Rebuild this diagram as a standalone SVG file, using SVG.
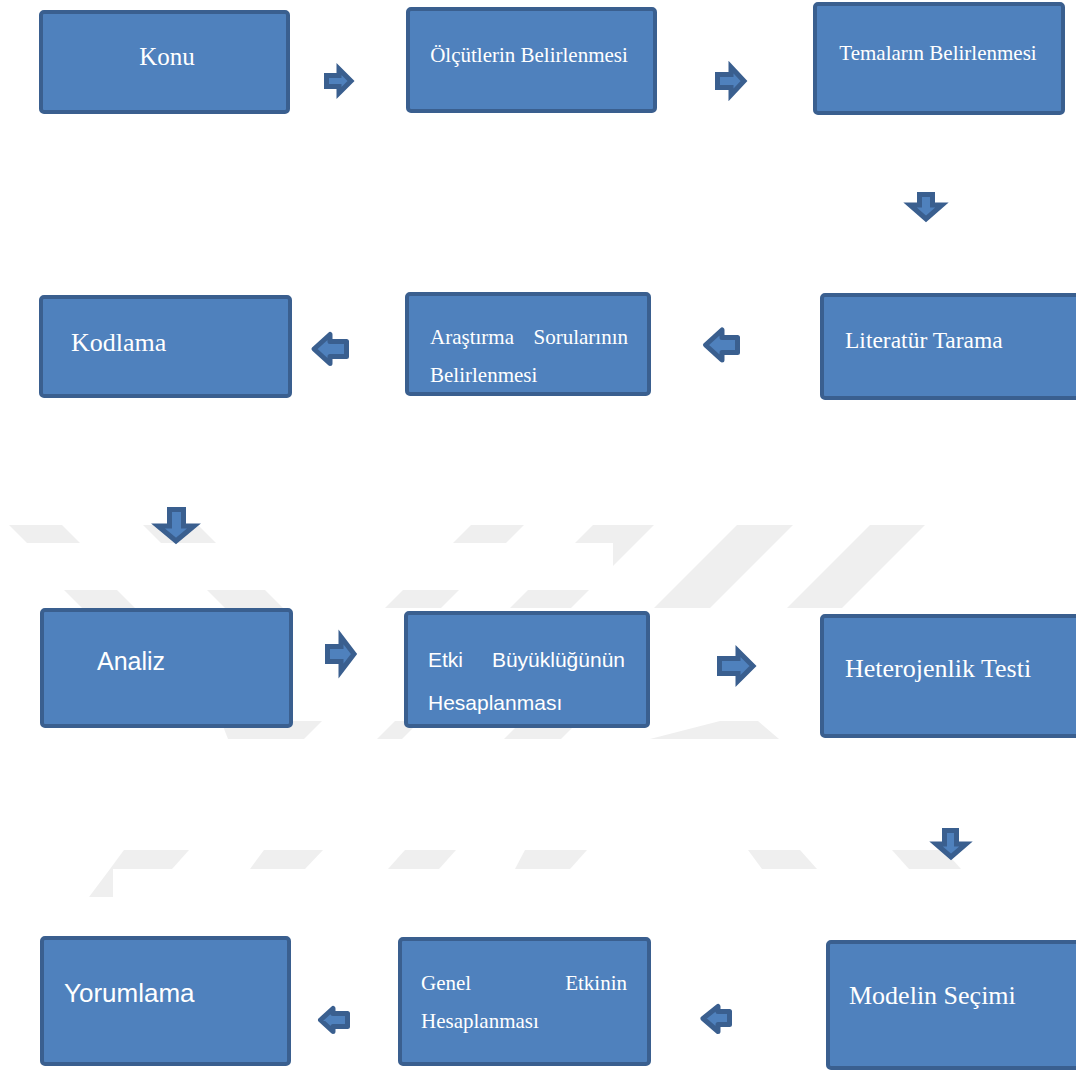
<svg xmlns="http://www.w3.org/2000/svg" width="1076" height="1070" viewBox="0 0 1076 1070">
<style>
.wm{fill:#efefef}
.box{fill:#4f81bd;stroke:#3a5f8f;stroke-width:4}
.arr{fill:#4f81bd;stroke:#3a5f8f;stroke-width:5}
.arrR{stroke-linejoin:miter}
.arrL{stroke-linejoin:round}
.serif{font-family:"Liberation Serif","Times New Roman",serif;fill:#ffffff}
.sans{font-family:"Liberation Sans",Arial,sans-serif;fill:#ffffff}
</style>
<rect width="1076" height="1070" fill="#ffffff"/>
<g id="watermark">
  <polygon class="wm" points="9,525 62,525 80,543 27,543"/>
  <polygon class="wm" points="143,525 198,525 216,543 161,543"/>
  <polygon class="wm" points="471,525 524,525 506,543 453,543"/>
  <polygon class="wm" points="593,525 654,525 571,608 510,608"/>
  <polygon class="wm" points="737,525 793,525 710,608 654,608"/>
  <polygon class="wm" points="870,525 925,525 842,608 787,608"/>
  <polygon class="wm" points="64,590 117,590 135,608 82,608"/>
  <polygon class="wm" points="207,590 265,590 283,608 225,608"/>
  <polygon class="wm" points="403,590 459,590 441,608 385,608"/>
  <rect x="36" y="543" width="577" height="47" fill="#ffffff"/>
  <polygon class="wm" points="221,721 322,721 304,739 228,739"/>
  <polygon class="wm" points="395,721 420,721 402,739 377,739"/>
  <polygon class="wm" points="522,721 579,721 561,739 504,739"/>
  <polygon class="wm" points="720,721 758,721 779,739 650,739"/>
  <polygon class="wm" points="124,850 189,850 172,869 110,869"/>
  <polygon class="wm" points="110,869 113,869 113,897 89,897"/>
  <polygon class="wm" points="264,850 323,850 305,869 250,869"/>
  <polygon class="wm" points="405,850 456,850 439,869 388,869"/>
  <polygon class="wm" points="525,850 587,850 570,869 515,869"/>
  <polygon class="wm" points="748,850 800,850 817,869 762,869"/>
  <polygon class="wm" points="892,850 944,850 961,869 909,869"/>
</g>
<g id="connectors">
  <polygon class="arr arrR" points="326.5,75.5 339,75.5 339,69 351,81 339,93 339,86.5 326.5,86.5"/>
  <polygon class="arr arrR" points="717.5,74.5 731,74.5 731,67 744,81 731,95 731,87.5 717.5,87.5"/>
  <polygon class="arr arrR" points="919.5,194.5 932.5,194.5 932.5,205 942,205 926,219 910,205 919.5,205"/>
  <polygon class="arr arrL" points="314,349 330,334.5 330,341.5 346.5,341.5 346.5,356.5 330,356.5 330,363.5"/>
  <polygon class="arr arrL" points="705.5,345 722,330 722,337.5 737.5,337.5 737.5,352.5 722,352.5 722,360"/>
  <polygon class="arr arrR" points="169.5,509.5 183.5,509.5 183.5,526 194,526 176,541 158,526 169.5,526"/>
  <polygon class="arr arrR" points="327.5,646.5 341,646.5 341,637 354,654 341,671 341,661.5 327.5,661.5"/>
  <polygon class="arr arrR" points="719.5,658.5 738,658.5 738,651 753,666 738,681 738,673.5 719.5,673.5"/>
  <polygon class="arr arrR" points="944.5,830.5 956.5,830.5 956.5,844 966,844 951,857 936,844 944.5,844"/>
  <polygon class="arr arrL" points="320.5,1020 333,1008.5 333,1013.5 347.5,1013.5 347.5,1026.5 333,1026.5 333,1031.5"/>
  <polygon class="arr arrL" points="703,1018.5 718,1006.5 718,1011.5 729.5,1011.5 729.5,1024.5 718,1024.5 718,1031.5"/>
</g>
<g id="n-konu">
  <rect class="box" x="41" y="12" width="247" height="100" rx="3"/>
  <text class="serif" x="167" y="65" font-size="25" text-anchor="middle">Konu</text>
</g>
<g id="n-olcutler">
  <rect class="box" x="408" y="9" width="247" height="102" rx="3"/>
  <text class="serif" x="529" y="62" font-size="21" text-anchor="middle">Ölçütlerin Belirlenmesi</text>
</g>
<g id="n-temalar">
  <rect class="box" x="815" y="4" width="248" height="109" rx="3"/>
  <text class="serif" x="938" y="60" font-size="21" text-anchor="middle">Temaların Belirlenmesi</text>
</g>
<g id="n-kodlama">
  <rect class="box" x="41" y="297" width="249" height="99" rx="3"/>
  <text class="serif" x="71" y="351" font-size="26">Kodlama</text>
</g>
<g id="n-arastirma">
  <rect class="box" x="407" y="294" width="242" height="100" rx="3"/>
  <text class="serif" x="430" y="344" font-size="21">Araştırma</text>
  <text class="serif" x="628" y="344" font-size="21" text-anchor="end">Sorularının</text>
  <text class="serif" x="430" y="382" font-size="21">Belirlenmesi</text>
</g>
<g id="n-literatur">
  <rect class="box" x="822" y="295" width="258" height="103" rx="3"/>
  <text class="serif" x="845" y="348" font-size="23.5">Literatür Tarama</text>
</g>
<g id="n-analiz">
  <rect class="box" x="42" y="610" width="249" height="116" rx="3"/>
  <text class="sans" x="97" y="670" font-size="25">Analiz</text>
</g>
<g id="n-etki">
  <rect class="box" x="406" y="613" width="242" height="113" rx="3"/>
  <text class="sans" x="428" y="667" font-size="21">Etki</text>
  <text class="sans" x="625" y="667" font-size="21" text-anchor="end">Büyüklüğünün</text>
  <text class="sans" x="428" y="710" font-size="21">Hesaplanması</text>
</g>
<g id="n-heterojenlik">
  <rect class="box" x="822" y="616" width="258" height="120" rx="3"/>
  <text class="serif" x="845" y="677" font-size="26">Heterojenlik Testi</text>
</g>
<g id="n-yorumlama">
  <rect class="box" x="42" y="938" width="247" height="126" rx="3"/>
  <text class="sans" x="64" y="1002" font-size="26">Yorumlama</text>
</g>
<g id="n-genel">
  <rect class="box" x="400" y="939" width="249" height="125" rx="3"/>
  <text class="serif" x="421" y="990" font-size="21">Genel</text>
  <text class="serif" x="627" y="990" font-size="21" text-anchor="end">Etkinin</text>
  <text class="serif" x="421" y="1028" font-size="21">Hesaplanması</text>
</g>
<g id="n-modelin">
  <rect class="box" x="828" y="942" width="252" height="126" rx="3"/>
  <text class="serif" x="849" y="1004" font-size="26">Modelin Seçimi</text>
</g>
</svg>
